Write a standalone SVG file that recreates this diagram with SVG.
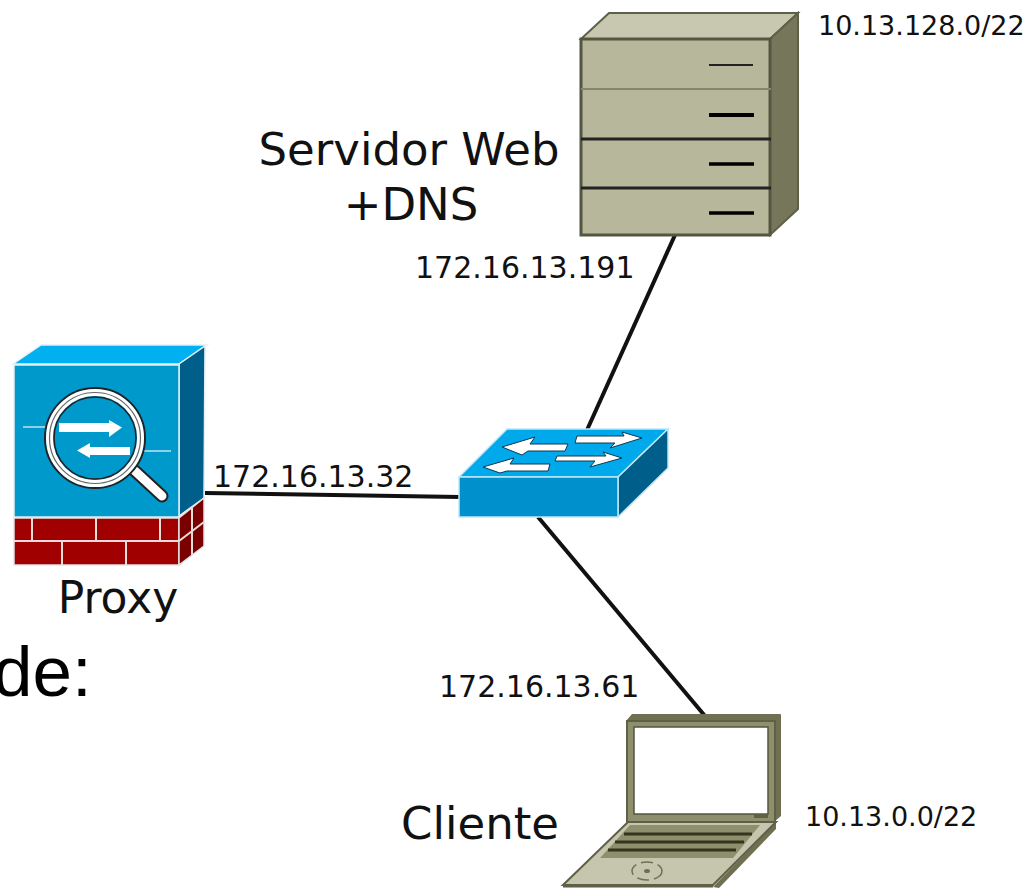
<svg xmlns="http://www.w3.org/2000/svg" width="1031" height="888" viewBox="0 0 1031 888">
<style>
.lab{font-family:"DejaVu Sans",sans-serif;fill:#111}
.big{font-size:45px}
.mid{font-size:30px}
.sm{font-size:27px}
.cable{stroke:#111;stroke-width:4;fill:none}
.bk{stroke:#fff;stroke-width:1.6;opacity:.7}
.sw{fill:#fff;stroke:#0a3a50;stroke-width:1}
</style>
<rect width="1031" height="888" fill="#fff"/>
<g id="connectors">
<line class="cable" x1="675" y1="235" x2="587" y2="430"/>
<line class="cable" x1="205" y1="493" x2="460" y2="497"/>
<line class="cable" x1="538" y1="517" x2="705" y2="716"/>
</g>
<g id="server">
<polygon points="581,39 609,13 798,13 770,39" fill="#c8c8b0" stroke="#5f6048" stroke-width="2"/>
<polygon points="770,39 798,13 798,209 770,235" fill="#76765a" stroke="#5f6048" stroke-width="2"/>
<rect x="581" y="39" width="189" height="196" fill="#b7b79c" stroke="#55563f" stroke-width="3"/>
<line x1="581" y1="89" x2="771" y2="89" stroke="#85866c" stroke-width="2"/>
<line x1="581" y1="139" x2="771" y2="139" stroke="#222" stroke-width="3"/>
<line x1="581" y1="188" x2="771" y2="188" stroke="#222" stroke-width="3"/>
<line x1="709" y1="65" x2="753" y2="65" stroke="#222" stroke-width="2"/>
<line x1="709" y1="115" x2="754" y2="115" stroke="#000" stroke-width="4"/>
<line x1="709" y1="164" x2="754" y2="164" stroke="#000" stroke-width="3.5"/>
<line x1="709" y1="213" x2="754" y2="213" stroke="#000" stroke-width="3.5"/>
</g>
<g id="proxy">
<polygon points="13,364 41,345 207,345 179,364" fill="#00b0f0" stroke="#e4f0f4" stroke-width="1.5"/>
<polygon points="179,364 205,346 204,498 179,516" fill="#005f8a" stroke="#e4f0f4" stroke-width="1.5"/>
<rect x="14" y="365" width="165" height="152" fill="#0099cc" stroke="#e4f0f4" stroke-width="1.5"/>
<rect x="14" y="518" width="165" height="47" fill="#a00000" stroke="#e4e4e4" stroke-width="1.5"/>
<polygon points="179,518 204,498 204,546 179,565" fill="#7a0000" stroke="#e4e4e4" stroke-width="1.5"/>
<path d="M14,541H179M32,518V541M96,518V541M160,518V541M62,541V565M126,541V565M179,541L204,522M192,508V532M192,532V555" stroke="#e8dcdc" stroke-width="2" fill="none"/>
<line class="bk" x1="23" y1="427" x2="50" y2="427"/>
<line class="bk" x1="140" y1="451" x2="171" y2="451"/>
<line x1="135" y1="471" x2="162" y2="496" stroke="#222" stroke-width="13" stroke-linecap="round"/>
<line x1="135" y1="471" x2="162" y2="496" stroke="#fff" stroke-width="9" stroke-linecap="round"/>
<circle cx="95" cy="438" r="50" fill="#0099cc" stroke="#222" stroke-width="2"/>
<circle cx="95" cy="438" r="45.5" fill="none" stroke="#fff" stroke-width="7"/>
<circle cx="95" cy="438" r="45.5" fill="none" stroke="#666" stroke-width="1.2"/>
<circle cx="95" cy="438" r="41" fill="#0099cc" stroke="#222" stroke-width="1.5"/>
<polygon points="59,423 109,423 109,420 122,427.5 109,437 109,432 59,432" fill="#fff"/>
<polygon points="130,447 90,447 90,443 77,450.5 90,458 90,455 130,455" fill="#fff"/>
</g>
<g id="switch">
<polygon points="459,477 507,429 668,429 618,477" fill="#00a8ec" stroke="#bfe8f8" stroke-width="1.5"/>
<polygon points="618,477 668,429 668,468 618,517" fill="#005f8a" stroke="#bfe8f8" stroke-width="1.5"/>
<rect x="459" y="477" width="159" height="40" fill="#0090cc" stroke="#bfe8f8" stroke-width="1.5"/>
<polygon class="sw" points="502,447 535,437 530,444 568,444 565,451 528,451 522,455"/>
<polygon class="sw" points="483,467 514,458 510,464 550,464 548,471 507,471 500,473"/>
<polygon class="sw" points="577,436 624,436 622,432 642,438 610,448 615,443 575,443"/>
<polygon class="sw" points="557,456 606,456 603,452 622,458 590,467 595,461 555,461"/>
</g>
<g id="laptop">
<polygon points="626,721 632,714 781,714 774,722" fill="#6f7052"/>
<polygon points="774,720 781,714 781,816 774,822" fill="#6f7052"/>
<rect x="627" y="721" width="148" height="101" fill="#8e8f6c" stroke="#5f6048" stroke-width="2"/>
<rect x="634" y="727" width="134" height="87" fill="#fff" stroke="#55563f" stroke-width="1.5"/>
<rect x="754" y="814" width="14" height="4" fill="#5f6048"/>
<polygon points="713,887 776,822 776,829 719,888" fill="#6f7052"/>
<polygon points="563,885 628,822 776,822 713,885" fill="#c6c6ae" stroke="#5f6048" stroke-width="2"/>
<polygon points="600,858 630,825 760,825 733,858" fill="#8e8f6c"/>
<path d="M624,834H752M615,842H744M608,850H736" stroke="#34351f" stroke-width="3"/>
<ellipse cx="647" cy="871" rx="15" ry="9" fill="none" stroke="#6f7052" stroke-width="1.5" stroke-dasharray="12 5"/>
<ellipse cx="647" cy="871" rx="3" ry="2" fill="#6f7052"/>
<line x1="563" y1="886" x2="713" y2="886" stroke="#5f6048" stroke-width="3"/>
</g>
<g id="labels">
<text class="lab sm" x="818" y="35">10.13.128.0/22</text>
<text class="lab big" x="409" y="165" text-anchor="middle">Servidor Web</text>
<text class="lab big" x="411" y="220" text-anchor="middle">+DNS</text>
<text class="lab mid" x="415" y="278">172.16.13.191</text>
<text class="lab mid" x="213" y="487">172.16.13.32</text>
<text class="lab big" x="118" y="613" text-anchor="middle" font-size="44" style="font-size:44px">Proxy</text>
<text x="-7" y="696" font-family="'Liberation Sans',Arial,sans-serif" font-size="71" fill="#000">de:</text>
<text class="lab mid" x="439" y="697">172.16.13.61</text>
<text class="lab big" x="480" y="839" text-anchor="middle">Cliente</text>
<text class="lab sm" x="805" y="826">10.13.0.0/22</text>
</g>
</svg>
